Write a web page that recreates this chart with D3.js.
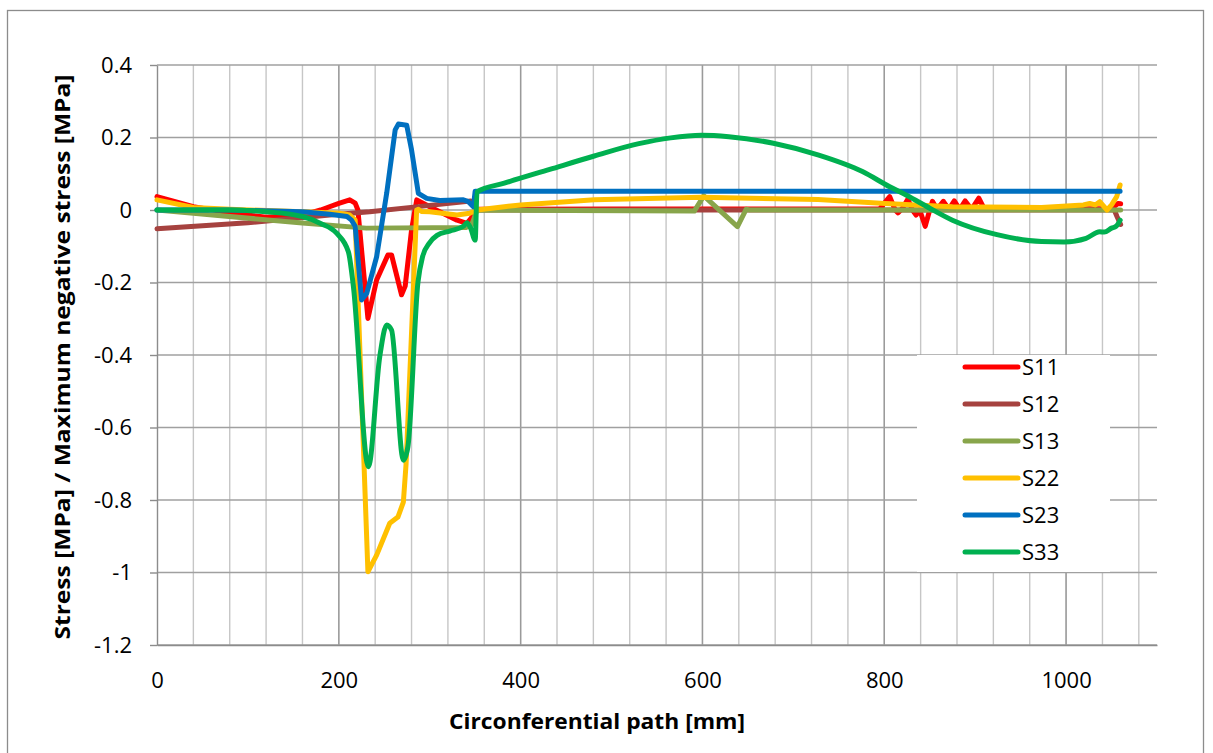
<!DOCTYPE html>
<html>
<head>
<meta charset="utf-8">
<script src="https://cdn.jsdelivr.net/npm/d3@7"></script>
<style>
  body { margin: 0; background: #fff; }
  text { font-family: "Open Sans", "Noto Sans", sans-serif; fill: #000; }
</style>
</head>
<body>
<svg id="chart" width="1213" height="753"></svg>
<script>
// values: [path mm, stress]
var s11 = [[0,0.037],[40,0.009],[80,-0.008],[120,-0.02],[160,-0.014],[180,0],[200,0.018],[212,0.028],[218,0.019],[221,0],
  [232,-0.299],[241.6,-0.193],[254,-0.124],[258,-0.124],[269,-0.234],[273,-0.21],[280,-0.055],[285.7,0.028],[300,0.009],
  [330,-0.028],[341,-0.037],[347,-0.018],[352,0.002],[500,0.003],[795,0.003],[806,0.037],[812,0],[815,-0.008],[820,0.005],
  [826,0.03],[831,0],[835,-0.014],[839,0],[845,-0.045],[850,0],[853,0.024],[858,0.002],[865,0.024],[871,0.002],[877,0.025],
  [883,0.002],[889,0.025],[896,0.002],[904,0.033],[910,0.003],[1000,0.003],[1050,0.004],[1057,0.018],[1060,0.017]];
var s12 = [[0,-0.052],[100,-0.035],[190,-0.014],[234,-0.005],[290,0.01],[345,0.025],[352,0],[700,0],[1053,0],[1056,-0.018],[1060,-0.04]];
var s13 = [[0,0],[40,-0.009],[160,-0.036],[230,-0.05],[340,-0.048],[346,-0.042],[352,0],[591,-0.003],[601.5,0.039],
  [638.5,-0.046],[648,0.002],[652,0],[1060,0]];
var s22 = [[0,0.028],[40,0.007],[80,0.002],[160,-0.005],[201,-0.009],[212,-0.014],[218,-0.028],[232,-0.998],[241.6,-0.952],
  [256,-0.864],[265,-0.847],[271,-0.806],[274,-0.7],[285.6,0],[287.5,0.002],[291,-0.004],[300,-0.005],[330,-0.014],
  [344,-0.009],[352,0],[382,0.009],[400,0.014],[481,0.028],[599,0.035],[727,0.029],[801,0.018],[875,0.009],[973,0.007],
  [1019,0.014],[1026,0.018],[1032,0.014],[1037,0.023],[1045,0],[1050,0.014],[1055.7,0.037],[1059.4,0.069]];
var s23 = [[0,0],[80,0],[160,-0.005],[190,-0.012],[209,-0.018],[214,-0.028],[218,-0.045],[225,-0.248],[230.7,-0.23],
  [241.6,-0.129],[252.7,0.047],[262,0.221],[265.5,0.237],[274.7,0.234],[280,0.166],[287.5,0.046],[296.7,0.032],
  [311,0.026],[337,0.028],[342.5,0.023],[348,0.009],[350,0.052],[1059.4,0.052]];
var s33 = [[0,0],[80,0],[120,-0.005],[160,-0.018],[180,-0.037],[197.6,-0.064],[210.5,-0.115],[216,-0.21],[232.5,-0.708],
  [245,-0.405],[252.7,-0.317],[258,-0.331],[271,-0.69],[276,-0.653],[287,-0.2],[292,-0.13],[300,-0.09],[308,-0.07],
  [322,-0.058],[337,-0.045],[341,-0.035],[345,-0.05],[350,-0.083],[352,0.05],[382,0.074],[432,0.112],
  [481,0.149],[530,0.183],[565,0.199],[599,0.206],[629,0.202],[678,0.184],[727,0.152],[776,0.106],[806,0.064],[825,0.04],
  [850,0.005],[875,-0.028],[924,-0.068],[973,-0.087],[998,-0.088],[1022,-0.078],[1037,-0.06],[1042,-0.061],[1050,-0.05],
  [1055,-0.045],[1059.5,-0.028]];

var seriesNames = ["S11", "S12", "S13", "S22", "S23", "S33"];
var seriesData = [s11, s12, s13, s22, s23, s33];
var seriesColors = ["#FF0000", "#A6423F", "#88A54B", "#FFC000", "#0070C0", "#00B050"];

var xTicks = [0, 200, 400, 600, 800, 1000];
var yTicks = [0.4, 0.2, 0, -0.2, -0.4, -0.6, -0.8, -1, -1.2];

var svg = d3.select("#chart");

// outer chart border
svg.append("rect")
  .attr("x", 7.5).attr("y", 10.5)
  .attr("width", 1196).attr("height", 760)
  .attr("fill", "none").attr("stroke", "#8c8c8c").attr("stroke-width", 1.3);

var x = d3.scaleLinear().domain([0, 1100]).range([157, 1157]);
var y = d3.scaleLinear().domain([-1.2, 0.4]).range([645, 65]);

// vertical grid, minor every 40, darker at the labelled values
var grid = svg.append("g");
grid.selectAll("line.vmin")
  .data(d3.range(40, 1100, 40))
  .enter().append("line")
  .attr("x1", function(d){ return x(d); }).attr("x2", function(d){ return x(d); })
  .attr("y1", y(0.4)).attr("y2", y(-1.2))
  .attr("stroke", "#c6c6c6").attr("stroke-width", 1.4);
grid.selectAll("line.vmaj")
  .data(xTicks.slice(1))
  .enter().append("line")
  .attr("x1", function(d){ return x(d); }).attr("x2", function(d){ return x(d); })
  .attr("y1", y(0.4)).attr("y2", y(-1.2))
  .attr("stroke", "#9a9a9a").attr("stroke-width", 1.4);
grid.selectAll("line.h")
  .data(yTicks)
  .enter().append("line")
  .attr("x1", x(0)).attr("x2", x(1100))
  .attr("y1", function(d){ return y(d); }).attr("y2", function(d){ return y(d); })
  .attr("stroke", "#a0a0a0").attr("stroke-width", 1.4);

// axes
var yAxis = d3.axisLeft(y).tickValues(yTicks).tickSizeInner(7).tickSizeOuter(0).tickPadding(18)
  .tickFormat(function(d){ return String(+d.toFixed(1)); });
var gy = svg.append("g").attr("transform", "translate(" + x(0) + ",0)").call(yAxis);
gy.selectAll("text").style("font-size", "22px").attr("fill", "#000");

var xAxis = d3.axisBottom(x).tickValues(xTicks).tickSize(0).tickPadding(27)
  .tickFormat(function(d){ return String(d); });
var gx = svg.append("g").attr("transform", "translate(0," + y(-1.2) + ")").call(xAxis);
gx.selectAll("text").style("font-size", "22px").attr("fill", "#000");

[gx, gy].forEach(function(g){
  g.select(".domain").attr("stroke", "#8c8c8c").attr("stroke-width", 1.4);
  g.selectAll(".tick line").attr("stroke", "#8c8c8c").attr("stroke-width", 1.4);
});

// series (the long S33 wave is smooth in the reference)
var line = d3.line()
  .x(function(d){ return x(d[0]); })
  .y(function(d){ return y(d[1]); });
var smoothLine = d3.line()
  .x(function(d){ return x(d[0]); })
  .y(function(d){ return y(d[1]); })
  .curve(d3.curveMonotoneX);

svg.append("g").selectAll("path")
  .data(seriesData)
  .enter().append("path")
  .attr("d", function(d, i){ return seriesNames[i] == "S33" ? smoothLine(d) : line(d); })
  .attr("fill", "none")
  .attr("stroke", function(d, i){ return seriesColors[i]; })
  .attr("stroke-width", 5)
  .attr("stroke-linejoin", "round")
  .attr("stroke-linecap", "round");

// legend
var legend = svg.append("g");
legend.append("rect")
  .attr("x", 917).attr("y", 355).attr("width", 193).attr("height", 217)
  .attr("fill", "#fff");
var rows = legend.selectAll("g.row")
  .data(seriesNames)
  .enter().append("g")
  .attr("transform", function(d, i){ return "translate(0," + (367 + i * 37) + ")"; });
rows.append("line")
  .attr("x1", 965).attr("x2", 1018).attr("y1", 0).attr("y2", 0)
  .attr("stroke", function(d, i){ return seriesColors[i]; })
  .attr("stroke-width", 5).attr("stroke-linecap", "round");
rows.append("text")
  .attr("x", 1022).attr("y", 8)
  .style("font-size", "22px")
  .text(function(d){ return d; });

// titles
svg.append("text")
  .attr("x", 597).attr("y", 729)
  .attr("text-anchor", "middle")
  .attr("textLength", 296).attr("lengthAdjust", "spacingAndGlyphs")
  .style("font-size", "22px").style("font-weight", "bold")
  .text("Circonferential path [mm]");
svg.append("text")
  .attr("transform", "translate(70,357) rotate(-90)")
  .attr("text-anchor", "middle")
  .attr("textLength", 565).attr("lengthAdjust", "spacingAndGlyphs")
  .style("font-size", "22px").style("font-weight", "bold")
  .text("Stress [MPa] / Maximum negative stress [MPa]");
</script>
</body>
</html>
